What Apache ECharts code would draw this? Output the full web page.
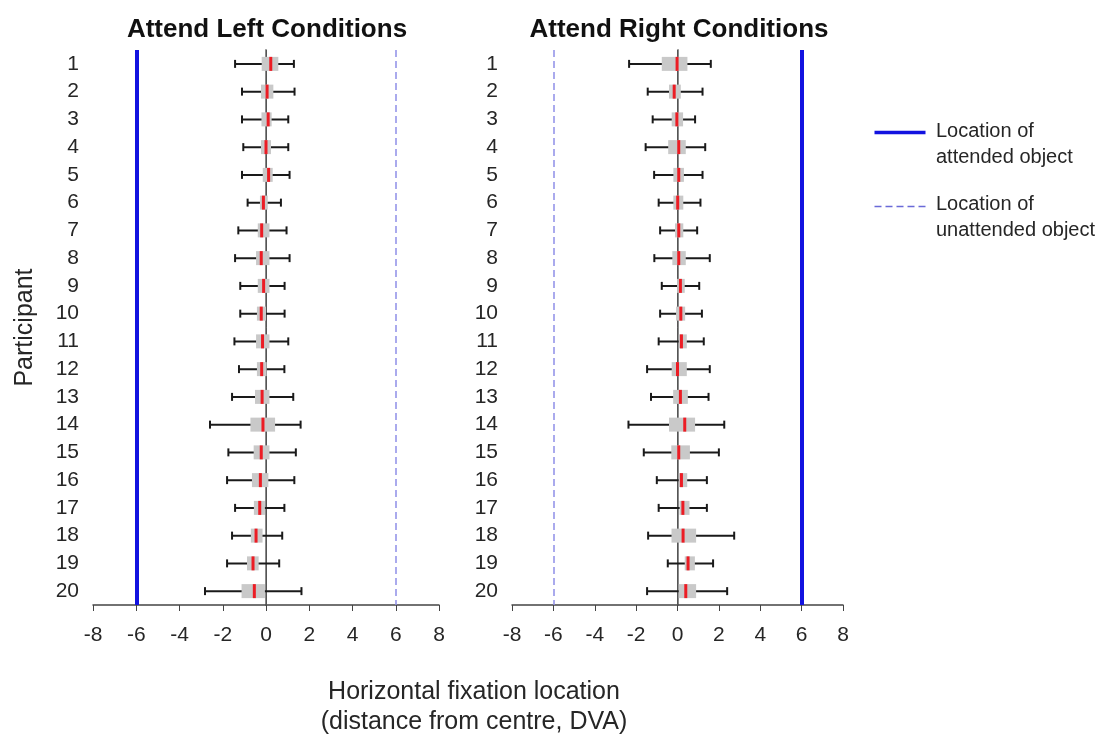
<!DOCTYPE html>
<html>
<head>
<meta charset="utf-8">
<script src="https://cdn.jsdelivr.net/npm/echarts@6/dist/echarts.min.js"></script>
<style>
  html, body { margin: 0; padding: 0; background: #fff; }
  #main { width: 1112px; height: 735px; }
</style>
</head>
<body>
<div id="main"></div>
<script>
// participants 1..20
var participants = ['1','2','3','4','5','6','7','8','9','10','11','12','13','14','15','16','17','18','19','20'];
var xTicks = [-8, -6, -4, -2, 0, 2, 4, 6, 8];

// attend left: whisker low, box low, median, box high, whisker high (DVA)
var leftLow  = [-1.43,-1.11,-1.11,-1.05,-1.11,-0.85,-1.28,-1.43,-1.19,-1.19,-1.46,-1.25,-1.57,-2.59,-1.74,-1.80,-1.43,-1.57,-1.80,-2.82];
var leftQ1   = [-0.20,-0.23,-0.21,-0.23,-0.15,-0.28,-0.38,-0.46,-0.38,-0.42,-0.46,-0.42,-0.51,-0.72,-0.57,-0.65,-0.56,-0.70,-0.88,-1.13];
var leftMed  = [ 0.22, 0.05, 0.10, 0.00, 0.12,-0.12,-0.20,-0.22,-0.11,-0.22,-0.16,-0.20,-0.18,-0.14,-0.22,-0.26,-0.29,-0.46,-0.60,-0.54];
var leftQ3   = [ 0.57, 0.34, 0.26, 0.23, 0.31, 0.08, 0.16, 0.16, 0.16, 0.00, 0.16, 0.03, 0.16, 0.42, 0.16, 0.11,-0.05,-0.16,-0.34,-0.05];
var leftHigh = [ 1.29, 1.32, 1.03, 1.03, 1.09, 0.69, 0.95, 1.09, 0.86, 0.86, 1.03, 0.85, 1.26, 1.60, 1.38, 1.31, 0.85, 0.75, 0.61, 1.64];

// attend right
var rightLow  = [-2.34,-1.44,-1.20,-1.54,-1.13,-0.91,-0.84,-1.12,-0.76,-0.84,-0.91,-1.47,-1.28,-2.37,-1.63,-1.00,-0.91,-1.42,-0.47,-1.47];
var rightQ1   = [-0.76,-0.41,-0.28,-0.45,-0.20,-0.20,-0.12,-0.25,-0.02,-0.07, 0.06,-0.28,-0.21,-0.41,-0.30, 0.06, 0.10,-0.29, 0.35, 0.06];
var rightMed  = [-0.02,-0.16,-0.03, 0.06, 0.06, 0.01, 0.06, 0.06, 0.14, 0.16, 0.19, 0.00, 0.14, 0.35, 0.06, 0.19, 0.26, 0.27, 0.51, 0.40];
var rightQ3   = [ 0.48, 0.16, 0.27, 0.40, 0.31, 0.28, 0.28, 0.40, 0.35, 0.37, 0.45, 0.45, 0.50, 0.85, 0.60, 0.47, 0.58, 0.90, 0.84, 0.90];
var rightHigh = [ 1.61, 1.21, 0.85, 1.34, 1.21, 1.11, 0.95, 1.56, 1.05, 1.18, 1.27, 1.56, 1.50, 2.26, 2.00, 1.42, 1.42, 2.74, 1.72, 2.40];

// object locations
var attendedLeft = -6, unattendedLeft = 6;
var attendedRight = 6, unattendedRight = -6;

var textColor = '#262626';
var fontFam = 'Liberation Sans, Arial, sans-serif';
var blue = '#1212e0';
var lightBlue = '#8f8fe8';

function makeRows(lo, q1, md, q3, hi) {
  var rows = [];
  for (var i = 0; i < lo.length; i++) {
    rows.push([i, lo[i], q1[i], md[i], q3[i], hi[i]]);
  }
  return rows;
}

// whisker + grey box + red median
function renderBox(params, api) {
  var cat = api.value(0);
  var lo = api.coord([api.value(1), cat]);
  var q1 = api.coord([api.value(2), cat]);
  var md = api.coord([api.value(3), cat]);
  var q3 = api.coord([api.value(4), cat]);
  var hi = api.coord([api.value(5), cat]);
  var y = lo[1];
  var bh = 14, cap = 4;
  return {
    type: 'group',
    children: [
      { type: 'line', shape: { x1: lo[0], y1: y, x2: hi[0], y2: y }, style: { stroke: '#1a1a1a', lineWidth: 2 } },
      { type: 'line', shape: { x1: lo[0], y1: y - cap, x2: lo[0], y2: y + cap }, style: { stroke: '#1a1a1a', lineWidth: 2 } },
      { type: 'line', shape: { x1: hi[0], y1: y - cap, x2: hi[0], y2: y + cap }, style: { stroke: '#1a1a1a', lineWidth: 2 } },
      { type: 'rect', shape: { x: q1[0], y: y - bh / 2, width: q3[0] - q1[0], height: bh }, style: { fill: '#c9c9c9' } },
      { type: 'line', shape: { x1: md[0], y1: y - bh / 2, x2: md[0], y2: y + bh / 2 }, style: { stroke: '#ec1c24', lineWidth: 3 } }
    ]
  };
}

function xAxisCfg(gridIndex) {
  return {
    type: 'value', gridIndex: gridIndex, min: -8, max: 8, interval: 2,
    splitLine: { show: false },
    axisLine: { show: true, onZero: false, lineStyle: { color: '#444', width: 1.5 } },
    axisTick: { show: true, length: 6, lineStyle: { color: '#444' } },
    axisLabel: { fontSize: 21, color: textColor, fontFamily: fontFam, margin: 20 }
  };
}

function yAxisCfg(gridIndex, name) {
  return {
    type: 'category', gridIndex: gridIndex, data: participants, inverse: true,
    name: name, nameLocation: 'middle', nameRotate: 90, nameGap: 55,
    nameTextStyle: { fontSize: 25, color: textColor, fontFamily: fontFam },
    axisLine: { show: true, lineStyle: { color: '#8a8a8a', width: 2 } },
    axisTick: { show: true, alignWithLabel: true, length: 5, lineStyle: { color: '#666' } },
    axisLabel: { fontSize: 21, color: textColor, fontFamily: fontFam, margin: 14 },
    splitLine: { show: false }
  };
}

function locLines(xi, yi, attended, unattended) {
  return {
    type: 'line', xAxisIndex: xi, yAxisIndex: yi, data: [], silent: true,
    markLine: {
      symbol: ['none', 'none'], silent: true, label: { show: false },
      data: [
        { xAxis: 0, lineStyle: { color: '#555', width: 1, type: 'solid' } },
        { xAxis: attended, lineStyle: { color: blue, width: 4, type: 'solid' } },
        { xAxis: unattended, lineStyle: { color: lightBlue, width: 1.5, type: [7, 4] } }
      ]
    }
  };
}

var chart = echarts.init(document.getElementById('main'));
chart.setOption({
  backgroundColor: '#fff',
  animation: false,
  title: [
    { text: 'Attend Left Conditions', left: 262, top: 12, textAlign: 'center',
      textStyle: { fontSize: 26, fontWeight: 'bold', color: '#111', fontFamily: fontFam } },
    { text: 'Attend Right Conditions', left: 674, top: 12, textAlign: 'center',
      textStyle: { fontSize: 26, fontWeight: 'bold', color: '#111', fontFamily: fontFam } },
    { text: 'Horizontal fixation location\n(distance from centre, DVA)', left: 469, top: 672, textAlign: 'center',
      textStyle: { fontSize: 25, fontWeight: 'normal', color: textColor, fontFamily: fontFam, lineHeight: 30 } }
  ],
  grid: [
    { left: 93, top: 50, width: 346, height: 555 },
    { left: 512, top: 50, width: 331, height: 555 }
  ],
  xAxis: [xAxisCfg(0), xAxisCfg(1)],
  yAxis: [yAxisCfg(0, 'Participant'), yAxisCfg(1, '')],
  series: [
    locLines(0, 0, attendedLeft, unattendedLeft),
    locLines(1, 1, attendedRight, unattendedRight),
    {
      type: 'custom', name: 'Attend left', xAxisIndex: 0, yAxisIndex: 0,
      renderItem: renderBox, encode: { x: [1, 2, 3, 4, 5], y: 0 },
      data: makeRows(leftLow, leftQ1, leftMed, leftQ3, leftHigh), z: 5
    },
    {
      type: 'custom', name: 'Attend right', xAxisIndex: 1, yAxisIndex: 1,
      renderItem: renderBox, encode: { x: [1, 2, 3, 4, 5], y: 0 },
      data: makeRows(rightLow, rightQ1, rightMed, rightQ3, rightHigh), z: 5
    }
  ],
  graphic: [
    { type: 'line', left: 872, top: 130, shape: { x1: 0, y1: 0, x2: 51, y2: 0 }, style: { stroke: blue, lineWidth: 3.5 } },
    { type: 'text', left: 936, top: 118, style: { text: 'Location of\nattended object', fontSize: 20, lineHeight: 26, fill: textColor, fontFamily: fontFam } },
    { type: 'line', left: 872, top: 204, shape: { x1: 0, y1: 0, x2: 51, y2: 0 }, style: { stroke: '#6a6ad8', lineWidth: 1.5, lineDash: [7, 4] } },
    { type: 'text', left: 936, top: 191, style: { text: 'Location of\nunattended object', fontSize: 20, lineHeight: 26, fill: textColor, fontFamily: fontFam } }
  ]
});
</script>
</body>
</html>
